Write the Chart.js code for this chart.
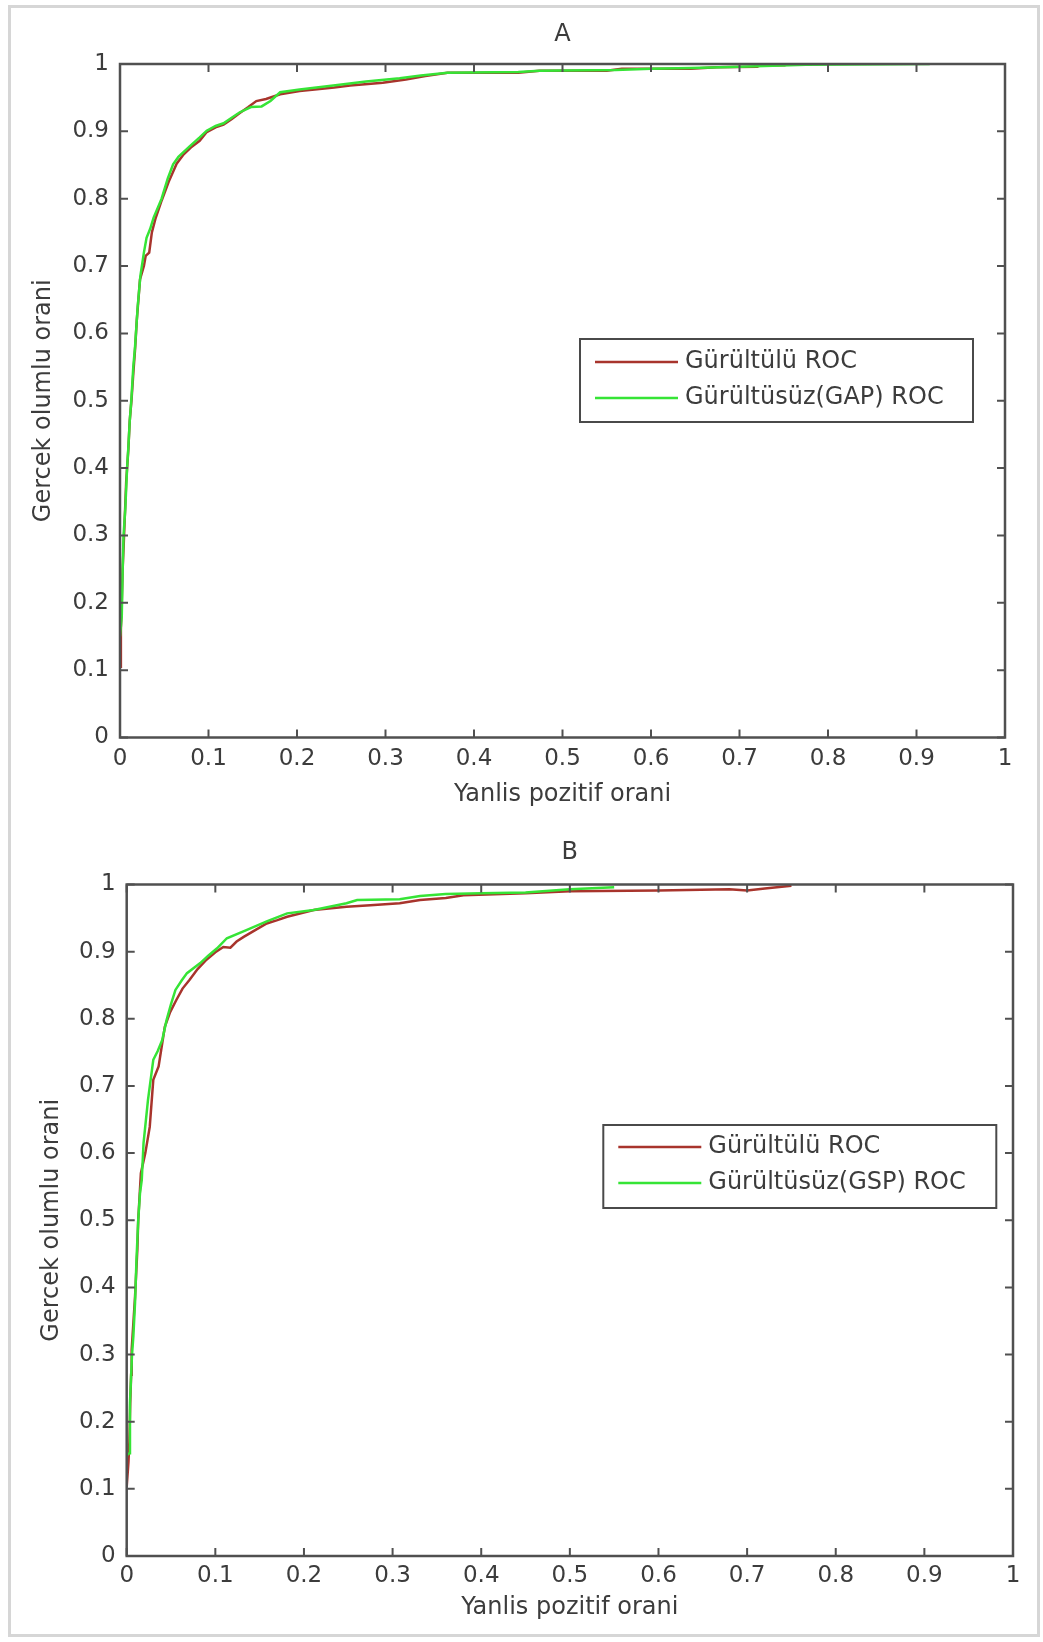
<!DOCTYPE html>
<html>
<head>
<meta charset="utf-8">
<title>ROC</title>
<script src="https://cdn.jsdelivr.net/npm/chart.js@4.4.1/dist/chart.umd.min.js"></script>
<style>
  html, body { margin: 0; padding: 0; background: #fff; }
  #page { position: relative; width: 1043px; height: 1642px; overflow: hidden; background: #fff; }
  #frame { position: absolute; left: 8px; top: 5px; width: 1026px; height: 1626px; border: 3px solid #d6d6d6; }
  canvas { position: absolute; left: 0; }
  #chartA { top: 0; }
  #chartB { top: 820px; }
</style>
</head>
<body>
<div id="page">
  <div id="frame"></div>
  <canvas id="chartA" width="1043" height="820"></canvas>
  <canvas id="chartB" width="1043" height="822"></canvas>
</div>

<script>
// -------------------------------
// Data
// -------------------------------
const tickValues = [0, 0.1, 0.2, 0.3, 0.4, 0.5, 0.6, 0.7, 0.8, 0.9, 1];
const tickLabels = ["0", "0.1", "0.2", "0.3", "0.4", "0.5", "0.6", "0.7", "0.8", "0.9", "1"];

const xTitle = "Yanlis pozitif orani";
const yTitle = "Gercek olumlu orani";

// Panel A
const aNoisyLabel = "Gürültülü ROC";
const aCleanLabel = "Gürültüsüz(GAP) ROC";
const aNoisyFpr = [0, 0.001, 0.002, 0.003, 0.004, 0.0055, 0.007, 0.0094, 0.011, 0.013, 0.015, 0.017, 0.019, 0.0226, 0.027, 0.029, 0.033, 0.036, 0.040, 0.047, 0.055, 0.064, 0.072, 0.080, 0.090, 0.098, 0.108, 0.117, 0.126, 0.135, 0.145, 0.154, 0.165, 0.181, 0.203, 0.220, 0.242, 0.260, 0.297, 0.323, 0.345, 0.370, 0.450, 0.474, 0.550, 0.567, 0.645, 0.674, 0.720, 0.723, 0.752];
const aNoisyTpr = [0.105, 0.16, 0.20, 0.25, 0.28, 0.33, 0.38, 0.427, 0.47, 0.501, 0.54, 0.576, 0.62, 0.68, 0.70, 0.715, 0.72, 0.75, 0.77, 0.797, 0.825, 0.852, 0.866, 0.876, 0.886, 0.899, 0.906, 0.910, 0.918, 0.927, 0.936, 0.945, 0.948, 0.955, 0.960, 0.962, 0.965, 0.968, 0.972, 0.977, 0.982, 0.987, 0.987, 0.990, 0.990, 0.993, 0.993, 0.995, 0.996, 0.998, 0.998];
const aCleanFpr = [0, 0.002, 0.003, 0.004, 0.006, 0.008, 0.0094, 0.011, 0.013, 0.015, 0.017, 0.020, 0.023, 0.027, 0.030, 0.034, 0.038, 0.047, 0.054, 0.060, 0.066, 0.079, 0.090, 0.098, 0.108, 0.117, 0.127, 0.135, 0.148, 0.160, 0.170, 0.181, 0.203, 0.241, 0.278, 0.316, 0.340, 0.370, 0.450, 0.474, 0.560, 0.600, 0.645, 0.700, 0.775, 0.915];
const aCleanTpr = [0.15, 0.18, 0.25, 0.30, 0.34, 0.40, 0.43, 0.47, 0.505, 0.55, 0.58, 0.64, 0.685, 0.72, 0.742, 0.755, 0.772, 0.80, 0.83, 0.851, 0.862, 0.878, 0.891, 0.901, 0.908, 0.912, 0.921, 0.928, 0.936, 0.937, 0.945, 0.958, 0.962, 0.968, 0.974, 0.979, 0.983, 0.987, 0.988, 0.990, 0.991, 0.993, 0.994, 0.996, 0.999, 1.0];

// Panel B
const bNoisyLabel = "Gürültülü ROC";
const bCleanLabel = "Gürültüsüz(GSP) ROC";
const bNoisyFpr = [0, 0.002, 0.003, 0.004, 0.005, 0.0056, 0.0094, 0.012, 0.013, 0.016, 0.021, 0.026, 0.030, 0.036, 0.043, 0.049, 0.056, 0.063, 0.071, 0.080, 0.090, 0.100, 0.109, 0.117, 0.124, 0.132, 0.145, 0.158, 0.170, 0.181, 0.211, 0.248, 0.275, 0.308, 0.331, 0.360, 0.380, 0.450, 0.500, 0.600, 0.680, 0.700, 0.720, 0.750];
const bNoisyTpr = [0.103, 0.14, 0.17, 0.228, 0.27, 0.307, 0.386, 0.456, 0.50, 0.57, 0.60, 0.639, 0.709, 0.729, 0.788, 0.81, 0.828, 0.845, 0.858, 0.874, 0.888, 0.899, 0.907, 0.906, 0.915, 0.922, 0.932, 0.942, 0.947, 0.952, 0.962, 0.967, 0.969, 0.972, 0.977, 0.980, 0.984, 0.987, 0.990, 0.991, 0.993, 0.991, 0.994, 0.998];
const bCleanFpr = [0, 0.003, 0.0037, 0.006, 0.0075, 0.0094, 0.011, 0.013, 0.015, 0.017, 0.019, 0.024, 0.030, 0.035, 0.040, 0.045, 0.050, 0.055, 0.062, 0.068, 0.083, 0.092, 0.102, 0.113, 0.135, 0.158, 0.181, 0.211, 0.248, 0.260, 0.308, 0.331, 0.360, 0.400, 0.450, 0.500, 0.550];
const bCleanTpr = [0.15, 0.153, 0.228, 0.30, 0.327, 0.377, 0.44, 0.50, 0.54, 0.56, 0.615, 0.679, 0.739, 0.752, 0.768, 0.798, 0.822, 0.843, 0.857, 0.868, 0.883, 0.894, 0.905, 0.920, 0.932, 0.945, 0.957, 0.962, 0.972, 0.977, 0.978, 0.983, 0.986, 0.987, 0.988, 0.993, 0.996];

// -------------------------------
// Styling
// -------------------------------
const NOISY_COLOR = "#a8342c";
const CLEAN_COLOR = "#36e436";
const AXIS_COLOR = "#505050";
const TEXT_COLOR = "#3c3c3c";
const FONT = "'DejaVu Sans', 'Liberation Sans', Arial, sans-serif";

function toPoints(xs, ys) {
  return xs.map((x, i) => ({ x: x, y: ys[i] }));
}

// MATLAB-like box with inward ticks + boxed legend
const matlabBox = {
  id: "matlabBox",
  afterDatasetsDraw(chart, args, opts) {
    const { ctx, chartArea } = chart;
    const { left, right, top, bottom } = chartArea;
    const xs = chart.scales.x;
    const ys = chart.scales.y;
    const tl = 8;

    ctx.save();
    ctx.strokeStyle = AXIS_COLOR;
    ctx.lineWidth = 2;
    ctx.beginPath();
    tickValues.forEach(v => {
      const px = xs.getPixelForValue(v);
      ctx.moveTo(px, bottom); ctx.lineTo(px, bottom - tl);
      ctx.moveTo(px, top); ctx.lineTo(px, top + tl);
      const py = ys.getPixelForValue(v);
      ctx.moveTo(left, py); ctx.lineTo(left + tl, py);
      ctx.moveTo(right, py); ctx.lineTo(right - tl, py);
    });
    ctx.stroke();

    ctx.lineWidth = 2.5;
    ctx.strokeRect(left, top, right - left, bottom - top);

    // legend
    const lg = opts.legend;
    const bx = left + lg.dx;
    const by = top + lg.dy;
    ctx.fillStyle = "#fff";
    ctx.fillRect(bx, by, lg.w, lg.h);
    ctx.lineWidth = 2;
    ctx.strokeStyle = "#4a4a4a";
    ctx.strokeRect(bx, by, lg.w, lg.h);

    ctx.font = "24px " + FONT;
    ctx.textBaseline = "middle";
    ctx.textAlign = "left";
    chart.data.datasets.forEach((ds, i) => {
      const ry = by + lg.rows[i];
      ctx.strokeStyle = ds.borderColor;
      ctx.lineWidth = 2.5;
      ctx.beginPath();
      ctx.moveTo(bx + 15, ry);
      ctx.lineTo(bx + 98, ry);
      ctx.stroke();
      ctx.fillStyle = TEXT_COLOR;
      ctx.fillText(ds.label, bx + 105, ry);
    });
    ctx.restore();
  }
};

// -------------------------------
// Build one panel
// -------------------------------
function buildChart(id, p) {
  const tickFont = { family: FONT, size: 23, lineHeight: 1.2 };
  const titleFont = { family: FONT, size: 24, lineHeight: 1.2 };

  return new Chart(document.getElementById(id), {
    type: "line",
    data: {
      datasets: [
        {
          label: p.noisyLabel,
          data: toPoints(p.noisyFpr, p.noisyTpr),
          borderColor: NOISY_COLOR,
          borderWidth: 2.5,
          pointRadius: 0,
          tension: 0,
          fill: false,
          order: 1
        },
        {
          label: p.cleanLabel,
          data: toPoints(p.cleanFpr, p.cleanTpr),
          borderColor: CLEAN_COLOR,
          borderWidth: 2.5,
          pointRadius: 0,
          tension: 0,
          fill: false,
          order: 0
        }
      ]
    },
    options: {
      responsive: false,
      animation: false,
      layout: { padding: { left: 0, right: p.padRight, top: 0, bottom: 0 } },
      plugins: {
        legend: { display: false },
        tooltip: { enabled: false },
        matlabBox: { legend: p.legend }
      },
      scales: {
        x: {
          type: "linear",
          position: "bottom",
          min: 0,
          max: 1,
          grid: { display: false, drawTicks: false },
          border: { display: false },
          ticks: {
            stepSize: 0.1,
            autoSkip: false,
            maxRotation: 0,
            padding: p.xTickPad,
            color: TEXT_COLOR,
            font: tickFont,
            callback: (v, i) => tickLabels[i]
          },
          title: {
            display: true,
            text: xTitle,
            color: TEXT_COLOR,
            font: titleFont,
            padding: { top: 0, bottom: p.xTitlePad }
          },
          afterFit: s => { s.height = p.xAxisH; }
        },
        x2: {
          type: "linear",
          axis: "x",
          position: "top",
          min: 0,
          max: 1,
          grid: { display: false, drawTicks: false },
          border: { display: false },
          ticks: { display: false },
          title: {
            display: true,
            text: p.title,
            color: TEXT_COLOR,
            font: titleFont,
            padding: { top: p.titlePad, bottom: 0 }
          },
          afterFit: s => { s.height = p.topH; }
        },
        y: {
          type: "linear",
          min: 0,
          max: 1,
          grid: { display: false, drawTicks: false },
          border: { display: false },
          ticks: {
            stepSize: 0.1,
            autoSkip: false,
            padding: 11,
            color: TEXT_COLOR,
            font: tickFont,
            callback: (v, i) => tickLabels[i]
          },
          title: {
            display: true,
            text: yTitle,
            color: TEXT_COLOR,
            font: titleFont,
            padding: { top: p.yTitlePad, bottom: 0 }
          },
          afterFit: s => { s.width = p.yAxisW; }
        }
      }
    },
    plugins: [matlabBox]
  });
}

buildChart("chartA", {
  title: "A",
  noisyLabel: aNoisyLabel, cleanLabel: aCleanLabel,
  noisyFpr: aNoisyFpr, noisyTpr: aNoisyTpr,
  cleanFpr: aCleanFpr, cleanTpr: aCleanTpr,
  padRight: 38, topH: 64, titlePad: 20, xAxisH: 82.5, xTickPad: 8, xTitlePad: 11,
  yAxisW: 120, yTitlePad: 29,
  legend: { dx: 460, dy: 275, w: 393, h: 83, rows: [23, 59] }
});

buildChart("chartB", {
  title: "B",
  noisyLabel: bNoisyLabel, cleanLabel: bCleanLabel,
  noisyFpr: bNoisyFpr, noisyTpr: bNoisyTpr,
  cleanFpr: bCleanFpr, cleanTpr: bCleanTpr,
  padRight: 30, topH: 64.5, titlePad: 18, xAxisH: 86, xTickPad: 6, xTitlePad: 20,
  yAxisW: 126.7, yTitlePad: 37,
  legend: { dx: 476.6, dy: 240.5, w: 393, h: 83, rows: [22, 58] }
});
</script>
</body>
</html>
